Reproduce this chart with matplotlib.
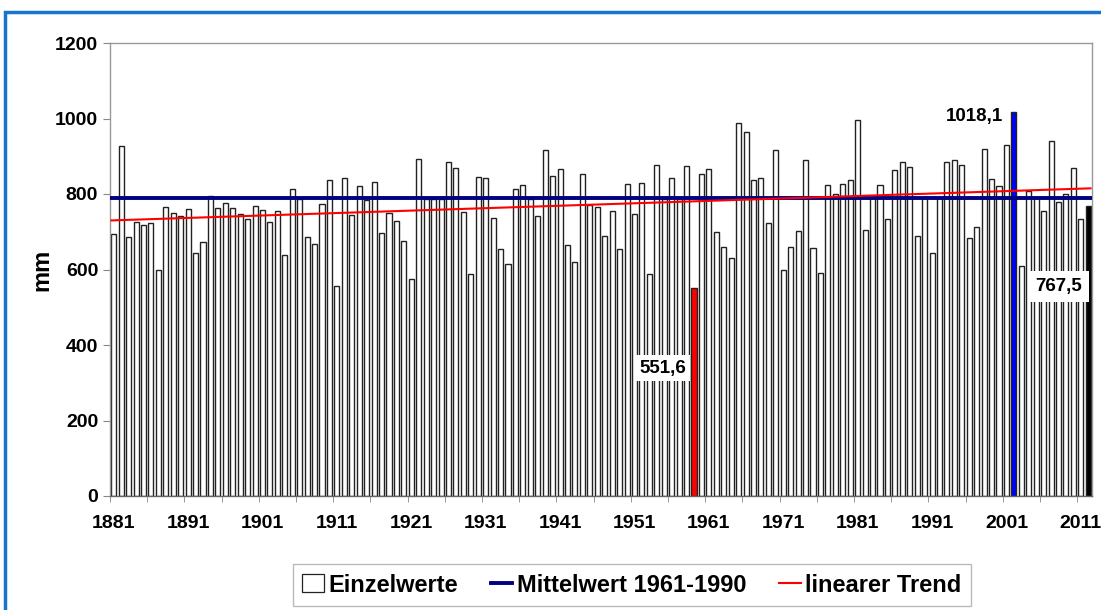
import numpy as np
import matplotlib.pyplot as plt
from matplotlib.patches import Rectangle, Patch
from matplotlib.lines import Line2D

plt.rcParams["font.family"] = ["Liberation Sans", "DejaVu Sans"]
plt.rcParams["font.weight"] = "bold"

# annual precipitation (mm), 1881-2012
years = np.arange(1881, 2013)
precip = [
    693, 927, 687, 725, 717, 722, 600, 765, 750, 743,   # 1881-1890
    761, 645, 673, 796, 764, 777, 762, 748, 733, 769,   # 1891-1900
    757, 726, 755, 638, 812, 786, 687, 667, 773, 836,   # 1901-1910
    556, 842, 744, 821, 783, 832, 696, 750, 728, 675,   # 1911-1920
    575, 894, 786, 786, 786, 885, 868, 753, 589, 845,   # 1921-1930
    842, 736, 655, 614, 812, 825, 786, 742, 916, 847,   # 1931-1940
    865, 666, 619, 852, 770, 766, 688, 755, 655, 826,   # 1941-1950
    748, 829, 589, 877, 786, 843, 786, 874, 551.6, 852,  # 1951-1960
    865, 700, 659, 630, 989, 964, 836, 842, 723, 917,   # 1961-1970
    599, 659, 702, 890, 657, 590, 823, 800, 826, 837,   # 1971-1980
    996, 705, 790, 823, 733, 864, 885, 871, 688, 790,   # 1981-1990
    643, 790, 885, 889, 877, 684, 713, 920, 839, 821,   # 1991-2000
    929, 1018.1, 610, 808, 790, 754, 941, 778, 800, 869,  # 2001-2010
    734, 767.5,                                          # 2011-2012
]
highlight = {1959: "#ff0000", 2002: "#0000ff", 2012: "#000000"}
mean_1961_1990 = 789
trend_ends = [730, 815]  # linear trend at 1881 and 2012
tick_years = list(range(1881, 2012, 10))

fig = plt.figure(figsize=(11.01, 6.10), dpi=100)
ax = fig.add_axes([110 / 1101, 1 - 496 / 610, 982 / 1101, 453 / 610])

colors = [highlight.get(y, "white") for y in years]
ax.bar(years, precip, width=0.68, color=colors, edgecolor="#222222", linewidth=1.0, zorder=2)

ax.plot([years[0] - 0.3, years[-1] + 0.3], [mean_1961_1990] * 2, color="#000080", lw=2.8, zorder=3)
ax.plot([years[0] - 0.3, years[-1] + 0.3], trend_ends, color="#ff0000", lw=1.5, zorder=4)

box = dict(facecolor="white", edgecolor="none", pad=3)
ax.text(1957.9, 339, "551,6", ha="right", va="center", fontsize=13.5, fontweight="bold", bbox=box, zorder=5)
ax.text(2000.6, 1004, "1018,1", ha="right", va="center", fontsize=13.5, fontweight="bold", bbox=box, zorder=5)
ax.text(2008.0, 556, "767,5", ha="center", va="center", fontsize=13.5, fontweight="bold",
        bbox=dict(facecolor="white", edgecolor="none", pad=5), zorder=5)

ax.set_xlim(1880.5, 2012.5)
ax.set_ylim(0, 1200)
ax.set_yticks(range(0, 1201, 200))
ax.set_xticks(tick_years)
ax.set_xticks(np.arange(1880.5, 2012.5, 5), minor=True)
ax.tick_params(axis="x", which="major", length=0, pad=14, labelsize=14)
ax.tick_params(axis="x", which="minor", length=4, color="#888888")
ax.tick_params(axis="y", length=5, color="#888888", labelsize=14)
for lab in ax.get_xticklabels() + ax.get_yticklabels():
    lab.set_fontweight("bold")
ax.set_ylabel("mm", fontsize=17, fontweight="bold", labelpad=1)

for side in ["top", "right", "left", "bottom"]:
    ax.spines[side].set_color("#999999")
    ax.spines[side].set_linewidth(1.0)
ax.spines["bottom"].set_color("#666666")

handles = [
    Patch(facecolor="white", edgecolor="#222222", linewidth=0.9),
    Line2D([], [], color="#000080", lw=2.8),
    Line2D([], [], color="#ff0000", lw=1.5),
]
labels = ["Einzelwerte", "Mittelwert 1961-1990", "linearer Trend"]
leg = fig.legend(handles, labels, loc="center", bbox_to_anchor=(632 / 1101, 1 - 585 / 610), ncol=3,
                 frameon=True, fancybox=False, fontsize=17, handlelength=0.9, handletextpad=0.2,
                 columnspacing=1.4, borderpad=0.4, handleheight=0.8)
leg.get_frame().set_edgecolor("#aaaaaa")
leg.get_frame().set_linewidth(1.0)
for t in leg.get_texts():
    t.set_fontweight("bold")

# blue outer frame
fig.patches.append(Rectangle((5 / 1101, -0.1), 1.2, 1 - 12 / 610 + 0.1, transform=fig.transFigure,
                             fill=False, edgecolor="#1874cd", linewidth=2.5))

fig.savefig("out.png", dpi=100)
